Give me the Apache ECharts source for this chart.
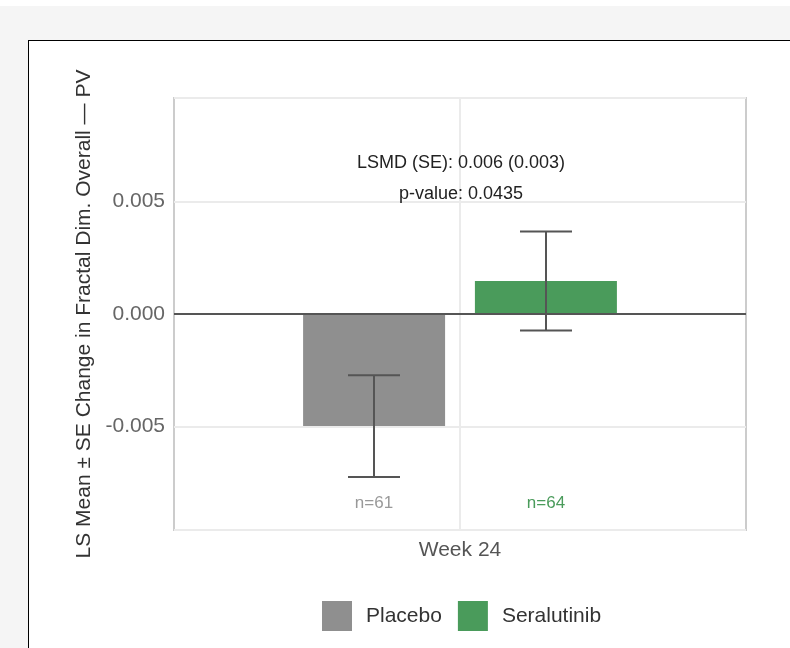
<!DOCTYPE html>
<html>
<head>
<meta charset="utf-8">
<script src="https://cdn.jsdelivr.net/npm/echarts@6/dist/echarts.min.js"></script>
<style>
    html, body { margin: 0; padding: 0; background: #ffffff; }
    #bg { position: absolute; left: 0; top: 6px; width: 790px; height: 642px; background: #f5f5f5; }
    #panel { position: absolute; left: 28px; top: 40px; width: 800px; height: 700px; background: #ffffff; border: 1px solid #000; }
    #chart { position: absolute; left: 0; top: 0; width: 790px; height: 648px; }
</style>
</head>
<body>
<div id="bg"></div>
<div id="panel"></div>
<div id="chart"></div>
<script>
// 数据
var categories = ['Week 24'];
var groups = ['Placebo', 'Seralutinib'];
var lsMean = [-0.00498, 0.00147];
var lsSE = [0.00226, 0.0022];
var nCount = [61, 64];
var annotation = ['LSMD (SE): 0.006 (0.003)', 'p-value: 0.0435'];
var yTicks = [-0.005, 0, 0.005];

var colors = ['#8f8f8f', '#4a9b5b'];
var nColors = ['#999999', '#4a9b5b'];
var barOffset = [-86, 86];
var FONT = 'Liberation Sans, Arial, sans-serif';

var myChart = echarts.init(document.getElementById('chart'));

// 误差线
function errorBar(idx) {
    return function (params, api) {
        var base = api.coord([api.value(0), 0]);
        var x = base[0] + barOffset[idx];
        var hi = api.coord([api.value(0), api.value(2)])[1];
        var lo = api.coord([api.value(0), api.value(1)])[1];
        var half = 26;
        var style = {stroke: '#555555', lineWidth: 2};
        return {
            type: 'group',
            children: [
                {type: 'line', shape: {x1: x, y1: hi, x2: x, y2: lo}, style: style},
                {type: 'line', shape: {x1: x - half, y1: hi, x2: x + half, y2: hi}, style: style},
                {type: 'line', shape: {x1: x - half, y1: lo, x2: x + half, y2: lo}, style: style}
            ]
        };
    };
}

// n= 标签
function nLabel(idx) {
    return function (params, api) {
        var x = api.coord([api.value(0), 0])[0] + barOffset[idx];
        var bottom = params.coordSys.y + params.coordSys.height;
        return {
            type: 'text',
            x: x,
            y: bottom - 27,
            style: {
                text: 'n=' + api.value(1),
                fill: nColors[idx],
                fontSize: 17,
                fontFamily: FONT,
                align: 'center',
                verticalAlign: 'middle'
            }
        };
    };
}

// 类别中心的竖网格线
function centerLine(params, api) {
    var x = api.coord([api.value(0), 0])[0];
    var cs = params.coordSys;
    return {
        type: 'line',
        shape: {x1: x, y1: cs.y, x2: x, y2: cs.y + cs.height},
        style: {stroke: '#ebebeb', lineWidth: 2}
    };
}

var series = [{
    name: 'grid-x',
    type: 'custom',
    renderItem: centerLine,
    data: [[0]],
    z: 0,
    silent: true
}];
groups.forEach(function (g, i) {
    series.push({
        name: g,
        type: 'bar',
        data: [lsMean[i]],
        barWidth: 142,
        barGap: '21%',
        itemStyle: {color: colors[i]},
        z: 2
    });
});
series[2].markLine = {
    silent: true,
    symbol: 'none',
    label: {show: false},
    lineStyle: {color: '#555555', width: 2, type: 'solid'},
    data: [{yAxis: 0}]
};
groups.forEach(function (g, i) {
    series.push({
        name: g + ' SE',
        type: 'custom',
        renderItem: errorBar(i),
        data: [[0, lsMean[i] - lsSE[i], lsMean[i] + lsSE[i]]],
        z: 5,
        silent: true
    });
    series.push({
        name: g + ' n',
        type: 'custom',
        renderItem: nLabel(i),
        data: [[0, nCount[i]]],
        z: 5,
        silent: true
    });
});

var option = {
    animation: false,
    textStyle: {fontFamily: FONT},
    grid: {
        left: 174,
        top: 98,
        right: 44,
        bottom: 118,
        show: true,
        borderColor: '#cccccc',
        borderWidth: 2,
        backgroundColor: 'transparent'
    },
    legend: {
        data: groups,
        left: 317,
        top: 596,
        itemWidth: 30,
        itemHeight: 30,
        itemGap: 16,
        icon: 'rect',
        textStyle: {fontSize: 21, color: '#333333', padding: [0, 0, 0, 9]}
    },
    xAxis: {
        type: 'category',
        data: categories,
        axisLine: {show: false},
        axisTick: {show: false},
        splitLine: {show: false},
        axisLabel: {fontSize: 21, color: '#555555', margin: 10}
    },
    yAxis: {
        type: 'value',
        min: -0.0096,
        max: 0.0096,
        splitNumber: 4,
        name: 'LS Mean \u00b1 SE Change in Fractal Dim. Overall \u2014 PV',
        nameLocation: 'middle',
        nameGap: 74,
        nameTextStyle: {fontSize: 21, color: '#333333'},
        axisLine: {show: false},
        axisTick: {show: false},
        axisLabel: {
            fontSize: 21,
            color: '#666666',
            margin: 9,
            showMinLabel: false,
            showMaxLabel: false,
            formatter: function (v) {
                return yTicks.some(function (t) { return Math.abs(t - v) < 1e-9; }) ? v.toFixed(3) : '';
            }
        },
        splitLine: {lineStyle: {color: '#ebebeb', width: 2}}
    },
    graphic: [
        {type: 'text', z: 100, x: 461, y: 163, style: {text: annotation[0], fontSize: 18, fill: '#222222', align: 'center', verticalAlign: 'middle', fontFamily: FONT}},
        {type: 'text', z: 100, x: 461, y: 194, style: {text: annotation[1], fontSize: 18, fill: '#222222', align: 'center', verticalAlign: 'middle', fontFamily: FONT}}
    ],
    series: series
};

myChart.setOption(option);
</script>
</body>
</html>
